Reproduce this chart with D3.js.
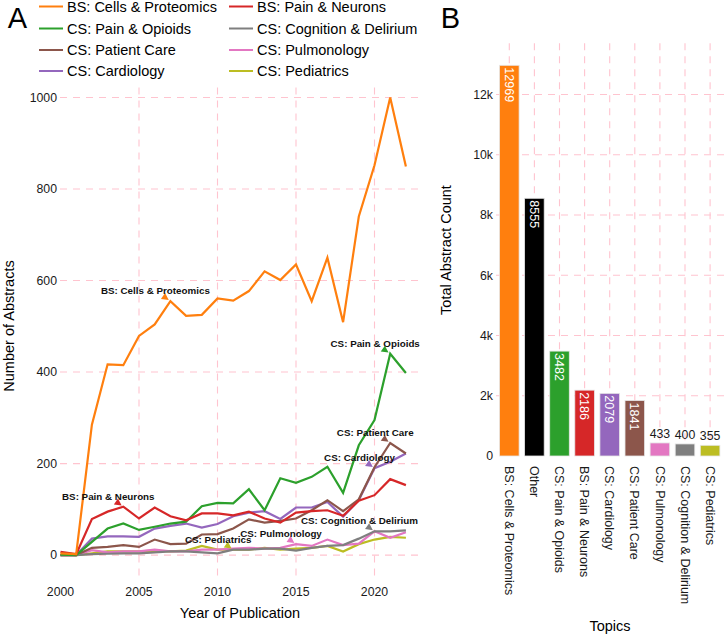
<!DOCTYPE html>
<html><head><meta charset="utf-8">
<script src="https://cdn.jsdelivr.net/npm/d3@7"></script>
<style>body{margin:0;background:#fff}svg{display:block;font-family:"Liberation Sans",Arial,Helvetica,sans-serif}</style>
</head><body><svg id="c" width="724" height="636"></svg>
<script>
// ---------- DATA ----------
const years = [2000,2001,2002,2003,2004,2005,2006,2007,2008,2009,2010,2011,2012,2013,2014,2015,2016,2017,2018,2019,2020,2021,2022];
const cellsProteomics = [4,2,285,417,415,479,504,555,523,525,561,556,577,620,601,635,555,650,509,740,852,1000,849];
const painNeurons     = [7,2,79,95,106,80,104,85,76,91,91,87,95,80,71,93,96,98,86,119,131,166,153];
const painOpioids     = [1,0,29,58,69,55,62,69,73,107,114,113,144,98,168,158,171,193,136,240,295,440,398];
const cognition       = [0,0,2,3,4,4,6,8,8,6,4,12,12,14,14,10,16,20,22,36,52,52,54];
const patientCare     = [0,0,16,18,22,18,34,24,25,45,46,58,78,71,75,80,98,120,96,122,192,245,222];
const pulmonology     = [0,0,11,6,8,8,12,8,8,12,12,14,16,14,16,24,20,34,22,25,52,38,50];
const cardiology      = [0,0,36,41,41,40,58,64,69,60,68,85,93,96,79,104,104,116,84,120,190,204,222];
const pediatrics      = [0,0,4,8,8,8,10,8,10,20,12,12,12,16,12,14,16,20,8,24,34,40,38];

const seriesNames  = ["BS: Cells & Proteomics","BS: Pain & Neurons","CS: Pain & Opioids","CS: Cognition & Delirium","CS: Patient Care","CS: Pulmonology","CS: Cardiology","CS: Pediatrics"];
const seriesValues = [cellsProteomics,painNeurons,painOpioids,cognition,patientCare,pulmonology,cardiology,pediatrics];
const seriesColors = ["#ff7f0e","#d62728","#2ca02c","#7f7f7f","#8c564b","#e377c2","#9467bd","#bcbd22"];
const labelYears   = [2007,2004,2021,2020,2021,2015,2020,2011];

const topics      = ["BS: Cells & Proteomics","Other","CS: Pain & Opioids","BS: Pain & Neurons","CS: Cardiology","CS: Patient Care","CS: Pulmonology","CS: Cognition & Delirium","CS: Pediatrics"];
const totals      = [12969,8555,3482,2186,2079,1841,433,400,355];
const topicColors = ["#ff7f0e","#000000","#2ca02c","#d62728","#9467bd","#8c564b","#e377c2","#7f7f7f","#bcbd22"];

const yTicksA = [0,200,400,600,800,1000];
const xTicksA = [2000,2005,2010,2015,2020];
const yTicksB = [0,2000,4000,6000,8000,10000,12000];
const yTickLabelsB = ["0","2k","4k","6k","8k","10k","12k"];

// ---------- DRAW ----------
const svg = d3.select("#c");
const GRID = "#ffc4cf", DASH = "7,6", TXT = "#1a1a1a";

// Panel A
const xA = d3.scaleLinear().domain([2000, 2023]).range([60.5, 421.6]);
const yA = d3.scaleLinear().domain([-50, 1050]).range([578, 74.6]);
const gA = svg.append("g");

gA.selectAll("line.hg").data(yTicksA).join("line")
  .attr("x1", 60).attr("x2", 421.6)
  .attr("y1", d => yA(d)).attr("y2", d => yA(d))
  .attr("stroke", GRID).attr("stroke-width", 1.1).attr("stroke-dasharray", DASH);
gA.selectAll("line.vg").data(xTicksA.filter(d => d > 2000)).join("line")
  .attr("x1", d => xA(d)).attr("x2", d => xA(d))
  .attr("y1", 74.6).attr("y2", 578)
  .attr("stroke", GRID).attr("stroke-width", 1.1).attr("stroke-dasharray", DASH);

gA.selectAll("text.yt").data(yTicksA).join("text")
  .attr("x", 57).attr("y", d => yA(d)).attr("dy", "0.35em")
  .attr("text-anchor", "end").attr("font-size", 12.3).attr("fill", TXT)
  .text(d => d);
gA.selectAll("text.xt").data(xTicksA).join("text")
  .attr("x", d => xA(d)).attr("y", 592).attr("dy", "0.35em")
  .attr("text-anchor", "middle").attr("font-size", 12.3).attr("fill", TXT)
  .text(d => d);

gA.append("text").attr("x", 240).attr("y", 613).attr("dy", "0.35em")
  .attr("text-anchor", "middle").attr("font-size", 14.5).attr("fill", "#000")
  .text("Year of Publication");
gA.append("text").attr("transform", "translate(9,326) rotate(-90)").attr("dy", "0.35em")
  .attr("text-anchor", "middle").attr("font-size", 14.5).attr("fill", "#000")
  .text("Number of Abstracts");

const line = d3.line().x((d, i) => xA(years[i])).y(d => yA(d));
const order = d3.range(seriesNames.length).reverse();
gA.selectAll("path.s").data(order).join("path")
  .attr("d", i => line(seriesValues[i]))
  .attr("fill", "none").attr("stroke", i => seriesColors[i])
  .attr("stroke-width", 2.2).attr("stroke-linejoin", "miter").attr("stroke-linecap", "butt");

// annotations
seriesNames.forEach((name, i) => {
  const yi = years.indexOf(labelYears[i]);
  const px = xA(labelYears[i]), py = yA(seriesValues[i][yi]);
  const tx = px - 15, ty = py - 10.5;
  const dx = px - tx, dy = py - ty, L = Math.hypot(dx, dy);
  const ux = dx / L, uy = dy / L;
  const tipX = px - ux * 2, tipY = py - uy * 2;
  const bX = px - ux * 9, bY = py - uy * 9;
  const pts = [[tipX, tipY], [bX - uy * 3.6, bY + ux * 3.6], [bX + uy * 3.6, bY - ux * 3.6]];
  gA.append("path").attr("d", "M" + pts.map(p => p.join(",")).join("L") + "Z")
    .attr("fill", seriesColors[i]);
  gA.append("text").attr("x", tx).attr("y", ty).attr("dy", "0.35em")
    .attr("text-anchor", "middle").attr("font-size", 9.8).attr("font-weight", "bold")
    .attr("fill", "#111").text(name);
});

// legend (white box over top of panel)
gA.append("rect").attr("x", 30).attr("y", 0).attr("width", 400).attr("height", 83).attr("fill", "#fff");
const legCols = [[39, 67], [229, 257]];
const legRows = [6.5, 28.5, 50, 71];
seriesNames.forEach((name, i) => {
  const c = legCols[i % 2], r = legRows[Math.floor(i / 2)];
  gA.append("line").attr("x1", c[0]).attr("x2", c[0] + 24).attr("y1", r).attr("y2", r)
    .attr("stroke", seriesColors[i]).attr("stroke-width", 2);
  gA.append("text").attr("x", c[1]).attr("y", r).attr("dy", "0.35em")
    .attr("font-size", 14.5).attr("fill", "#000").text(name);
});
svg.append("text").attr("x", 17.5).attr("y", 18).attr("dy", "0.35em")
  .attr("text-anchor", "middle").attr("font-size", 29).attr("fill", "#000").text("A");

// Panel B
const xB = d3.scaleBand().domain(topics).range([496.75, 722.65]).paddingInner(0.22).paddingOuter(0.11);
const yB = d3.scaleLinear().domain([0, 13700]).range([456, 43.3]);
const gB = svg.append("g");

gB.selectAll("line.hg").data(yTicksB.filter(d => d > 0)).join("line")
  .attr("x1", 496).attr("x2", 724)
  .attr("y1", d => yB(d)).attr("y2", d => yB(d))
  .attr("stroke", GRID).attr("stroke-width", 1.1).attr("stroke-dasharray", DASH);
gB.selectAll("line.vg").data(topics).join("line")
  .attr("x1", d => xB(d) + xB.bandwidth() / 2).attr("x2", d => xB(d) + xB.bandwidth() / 2)
  .attr("y1", 43.3).attr("y2", 456)
  .attr("stroke", GRID).attr("stroke-width", 1.1).attr("stroke-dasharray", DASH);

gB.selectAll("rect.bar").data(topics).join("rect")
  .attr("x", d => xB(d)).attr("width", xB.bandwidth())
  .attr("y", (d, i) => yB(totals[i])).attr("height", (d, i) => yB(0) - yB(totals[i]))
  .attr("fill", (d, i) => topicColors[i]).attr("stroke", "#e6e6e6").attr("stroke-width", 0.8);

topics.forEach((t, i) => {
  const cx = xB(t) + xB.bandwidth() / 2, top = yB(totals[i]);
  if (totals[i] >= 1000) {
    gB.append("text").attr("transform", `translate(${cx},${top + 2}) rotate(90)`)
      .attr("dy", "0.35em").attr("font-size", 12.5).attr("fill", "#fff").text(totals[i]);
  } else {
    gB.append("text").attr("x", cx).attr("y", top - 5)
      .attr("text-anchor", "middle").attr("font-size", 12.3).attr("fill", TXT).text(totals[i]);
  }
  gB.append("text").attr("transform", `translate(${cx},466) rotate(90)`)
    .attr("dy", "0.35em").attr("font-size", 12.5).attr("fill", TXT).text(t);
});

gB.selectAll("text.yt").data(yTicksB).join("text")
  .attr("x", 493).attr("y", d => yB(d)).attr("dy", "0.35em")
  .attr("text-anchor", "end").attr("font-size", 12.3).attr("fill", TXT)
  .text((d, i) => yTickLabelsB[i]);

gB.append("text").attr("transform", "translate(446,250) rotate(-90)").attr("dy", "0.35em")
  .attr("text-anchor", "middle").attr("font-size", 14.5).attr("fill", "#000").text("Total Abstract Count");
gB.append("text").attr("x", 610).attr("y", 626).attr("dy", "0.35em")
  .attr("text-anchor", "middle").attr("font-size", 14.5).attr("fill", "#000").text("Topics");
svg.append("text").attr("x", 450.5).attr("y", 18).attr("dy", "0.35em")
  .attr("text-anchor", "middle").attr("font-size", 29).attr("fill", "#000").text("B");
</script></body></html>
